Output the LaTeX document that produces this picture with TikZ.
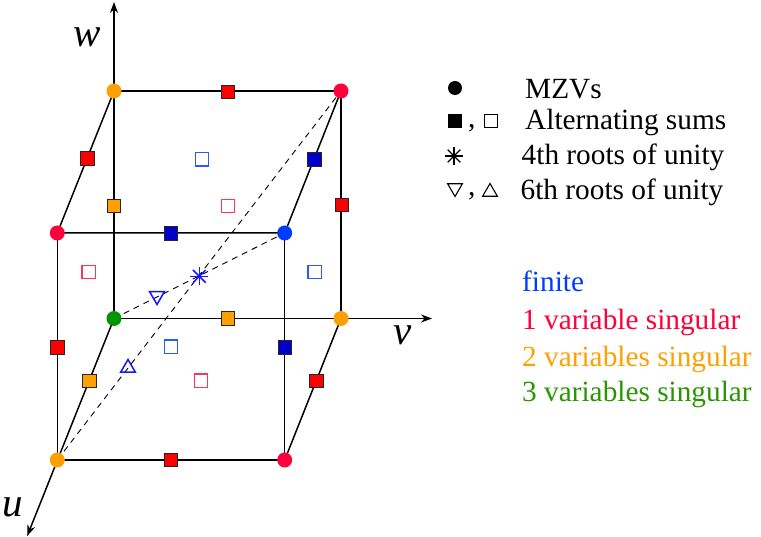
\documentclass[tikz,border=0pt]{standalone}
\usepackage{fontspec}
\setmainfont{Liberation Serif}
\usetikzlibrary{arrows.meta,shapes.geometric}
\definecolor{vred}{RGB}{255,0,60}
\definecolor{vorange}{RGB}{255,160,0}
\definecolor{vblue}{RGB}{0,60,255}
\definecolor{vgreen}{RGB}{0,150,0}
\definecolor{sred}{RGB}{255,0,0}
\definecolor{sblue}{RGB}{0,0,200}
\definecolor{hblue}{RGB}{40,90,255}
\definecolor{hred}{RGB}{255,50,90}
\definecolor{tblue}{RGB}{20,20,255}
\definecolor{lgreen}{RGB}{40,150,0}
\begin{document}
\begin{tikzpicture}[x=1pt,y=-1pt,
  edge/.style={black,line width=1.5pt},
  axis/.style={black,line width=1.5pt,-{Stealth[length=11pt,width=8pt]}},
  diag/.style={black,line width=0.9pt,dash pattern=on 6pt off 5pt},
  vert/.style={circle,fill=#1,minimum size=15pt,inner sep=0pt},
  fsq/.style={rectangle,fill=#1,draw=black!85,line width=1pt,minimum size=13.7pt,inner sep=0pt},
  hsq/.style={rectangle,draw=#1,line width=1.3pt,minimum size=13.4pt,inner sep=0pt},
  tri/.style={regular polygon,regular polygon sides=3,draw=tblue,line width=1.5pt,minimum size=17pt,inner sep=0pt},
  axlabel/.style={font=\fontsize{41}{46}\selectfont\itshape,anchor=base,inner sep=0pt},
  legtext/.style={font=\fontsize{29.3}{34}\selectfont,anchor=base west,inner sep=0pt},
  starmark/.pic={\foreach \a in {0,45,90,135}{\draw[pic actions] (\a:9pt) -- (\a+180:9pt);}}
]
\useasboundingbox (0,0) rectangle (761,537);
% cube corners
\coordinate (O) at (114,318.5);
\coordinate (A) at (114,91);
\coordinate (B) at (341,91);
\coordinate (C) at (341,318.5);
\coordinate (D) at (57.3,233);
\coordinate (E) at (284.7,233);
\coordinate (F) at (57.3,460);
\coordinate (G) at (284.7,460);
\coordinate (wend) at (114,2);
\coordinate (vend) at (432,318.5);
\coordinate (uend) at (27.2,536);
% axes
\draw[axis] (O) -- (wend);
\draw[axis] (O) -- (vend);
\draw[axis] (O) -- (uend);
% edges
\draw[edge] (A) -- (B) -- (C);
\draw[edge] (A) -- (D) -- (E) -- (B);
\draw[edge] (D) -- (F) -- (G) -- (E);
\draw[edge] (G) -- (C);
% dashed diagonals
\draw[diag] (F) -- (B);
\draw[diag] (O) -- (E);
% axis labels
\node[axlabel] (wl) at (87,46.5) {w};
\node[axlabel] (vl) at (403,345) {v};
\node[axlabel] (ul) at (12.5,516) {u};
% filled squares on edges
\node[fsq=sred] (s1) at (228,92) {};
\node[fsq=sred] (s2) at (87.5,158.3) {};
\node[fsq=sblue] (s3) at (314.7,159.3) {};
\node[fsq=vorange] (s4) at (114,206) {};
\node[fsq=sred] (s5) at (342,205) {};
\node[fsq=sblue] (s6) at (171,233.5) {};
\node[fsq=vorange] (s7) at (228,318.5) {};
\node[fsq=sred] (s8) at (57.3,347.5) {};
\node[fsq=sblue] (s9) at (285,347.5) {};
\node[fsq=vorange] (s10) at (89.3,381) {};
\node[fsq=sred] (s11) at (316.3,381) {};
\node[fsq=sred] (s12) at (171,460) {};
% hollow squares on faces
\node[hsq=hblue] (h1) at (202,159.3) {};
\node[hsq=hred] (h2) at (228,206) {};
\node[hsq=hred] (h3) at (88.7,272) {};
\node[hsq=hblue] (h4) at (314.7,272) {};
\node[hsq=hblue] (h5) at (171,346.7) {};
\node[hsq=hred] (h6) at (201,380.7) {};
% triangles and star
\node[tri,shape border rotate=180] (t1) at (157,296) {};
\node[tri] (t2) at (128,368) {};
\pic[draw=tblue,line width=1.5pt] at (199.3,276.3) {starmark};
% vertices
\node[vert=vgreen] (vO) at (O) {};
\node[vert=vorange] (vA) at (A) {};
\node[vert=vred] (vB) at (B) {};
\node[vert=vorange] (vC) at (C) {};
\node[vert=vred] (vD) at (D) {};
\node[vert=vblue] (vE) at (E) {};
\node[vert=vorange] (vF) at (F) {};
\node[vert=vred] (vG) at (G) {};
% legend markers
\node[circle,fill=black,minimum size=14pt,inner sep=0pt] (lb) at (455,88) {};
\node[rectangle,fill=black,minimum size=14pt,inner sep=0pt] (lfs) at (455,121) {};
\node[legtext] (lc1) at (468,127.5) {,};
\node[rectangle,draw=black,line width=1.1pt,minimum size=13pt,inner sep=0pt] (lhs) at (491,121) {};
\pic[draw=black,line width=1.1pt] at (454,156) {starmark};
\node[regular polygon,regular polygon sides=3,shape border rotate=180,draw=black,line width=1.1pt,minimum size=17pt,inner sep=0pt] (ltd) at (455,188) {};
\node[legtext] (lc2) at (468,196) {,};
\node[regular polygon,regular polygon sides=3,draw=black,line width=1.1pt,minimum size=17pt,inner sep=0pt] (ltu) at (490,192) {};
% legend text
\node[legtext] (l1) at (525,98.3) {MZVs};
\node[legtext] (l2) at (525,130) {Alternating sums};
\node[legtext] (l3) at (521.5,165) {4th roots of unity};
\node[legtext] (l4) at (520.5,199.5) {6th roots of unity};
\node[legtext,text=vblue] (c1) at (522,291.5) {finite};
\node[legtext,text=vred] (c2) at (522,329.5) {1 variable singular};
\node[legtext,text=vorange] (c3) at (522,366.5) {2 variables singular};
\node[legtext,text=lgreen] (c4) at (522,402) {3 variables singular};
\end{tikzpicture}
\end{document}
